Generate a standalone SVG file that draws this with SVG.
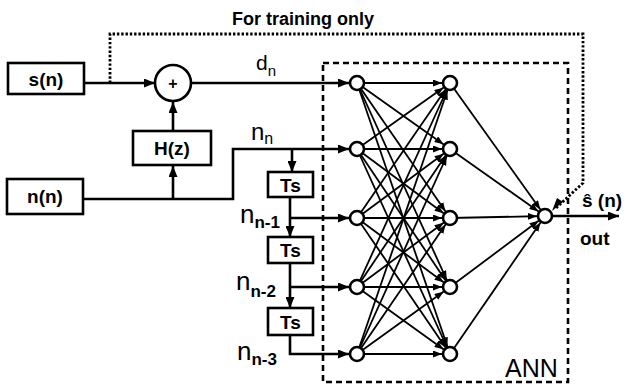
<svg xmlns="http://www.w3.org/2000/svg" width="630" height="385" viewBox="0 0 630 385">
<style>
.box{fill:#fff;stroke:#000;stroke-width:2.6}
.ln{fill:none;stroke:#000;stroke-width:2.6}
.w{fill:none;stroke:#000;stroke-width:1.8}
.node{fill:#fff;stroke:#000;stroke-width:2.6}
.t{font-family:"Liberation Sans",Arial,sans-serif;fill:#000}
.b{font-weight:bold}
.dot{fill:none;stroke:#000;stroke-width:2.8;stroke-dasharray:2.4 1.9}
.dash{fill:none;stroke:#000;stroke-width:2.6;stroke-dasharray:6 4}
</style>
<defs>
<marker id="arr" markerUnits="userSpaceOnUse" markerWidth="12" markerHeight="9" refX="11" refY="4.5" orient="auto">
<path d="M0,0 L11,4.5 L0,9 z" fill="#000"/>
</marker>
<marker id="nn" markerUnits="userSpaceOnUse" markerWidth="20" markerHeight="7" refX="17" refY="3.5" orient="auto">
<path d="M0,0 L9,3.5 L0,7 z" fill="#000"/>
</marker>
</defs>
<rect width="630" height="385" fill="#fff"/>

<g id="connectors">
<path class="dot" d="M110,83 V34 H583 V183 L556,208"/>
<path d="M563,202 L552,211 L557,198 z" fill="#000"/>
<path class="ln" d="M84,83 H155" marker-end="url(#arr)"/>
<path class="ln" d="M191,83 H349" marker-end="url(#arr)"/>
<path class="ln" d="M173,131 V102" marker-end="url(#arr)"/>
<path class="ln" d="M173,199 V166" marker-end="url(#arr)"/>
<path class="ln" d="M83,199 H233 V149 H349" marker-end="url(#arr)"/>
<path class="ln" d="M292,149 V172" marker-end="url(#arr)"/>
<path class="ln" d="M290,197 V237" marker-end="url(#arr)"/>
<path class="ln" d="M290,218 H349" marker-end="url(#arr)"/>
<path class="ln" d="M290,263 V308" marker-end="url(#arr)"/>
<path class="ln" d="M290,287 H349" marker-end="url(#arr)"/>
<path class="ln" d="M290,335 V354 H349" marker-end="url(#arr)"/>
<path class="ln" d="M552,216 H619" marker-end="url(#arr)"/>
<g class="w" marker-end="url(#nn)">
<line x1="357" y1="83" x2="450" y2="83"/>
<line x1="357" y1="83" x2="450" y2="149"/>
<line x1="357" y1="83" x2="450" y2="218"/>
<line x1="357" y1="83" x2="450" y2="287"/>
<line x1="357" y1="83" x2="450" y2="354"/>
<line x1="357" y1="149" x2="450" y2="83"/>
<line x1="357" y1="149" x2="450" y2="149"/>
<line x1="357" y1="149" x2="450" y2="218"/>
<line x1="357" y1="149" x2="450" y2="287"/>
<line x1="357" y1="149" x2="450" y2="354"/>
<line x1="357" y1="218" x2="450" y2="83"/>
<line x1="357" y1="218" x2="450" y2="149"/>
<line x1="357" y1="218" x2="450" y2="218"/>
<line x1="357" y1="218" x2="450" y2="287"/>
<line x1="357" y1="218" x2="450" y2="354"/>
<line x1="357" y1="287" x2="450" y2="83"/>
<line x1="357" y1="287" x2="450" y2="149"/>
<line x1="357" y1="287" x2="450" y2="218"/>
<line x1="357" y1="287" x2="450" y2="287"/>
<line x1="357" y1="287" x2="450" y2="354"/>
<line x1="357" y1="354" x2="450" y2="83"/>
<line x1="357" y1="354" x2="450" y2="149"/>
<line x1="357" y1="354" x2="450" y2="218"/>
<line x1="357" y1="354" x2="450" y2="287"/>
<line x1="357" y1="354" x2="450" y2="354"/>
<line x1="450" y1="83" x2="545" y2="216"/>
<line x1="450" y1="149" x2="545" y2="216"/>
<line x1="450" y1="218" x2="545" y2="216"/>
<line x1="450" y1="287" x2="545" y2="216"/>
<line x1="450" y1="354" x2="545" y2="216"/>
</g>
</g>

<g id="ann">
<rect class="dash" x="323" y="63" width="245" height="319"/>
<text class="t" x="505" y="377" font-size="25">ANN</text>
</g>

<g id="training-label"><text class="t b" x="303" y="25" font-size="18" text-anchor="middle">For training only</text></g>

<g id="s-n"><rect class="box" x="8" y="63" width="76" height="31"/><text class="t b" x="46" y="86" font-size="19" text-anchor="middle">s(n)</text></g>
<g id="n-n"><rect class="box" x="7" y="179" width="76" height="35"/><text class="t b" x="45" y="203" font-size="19" text-anchor="middle">n(n)</text></g>
<g id="sum"><circle class="node" cx="173" cy="83" r="18"/><text class="t b" x="173" y="89" font-size="16" text-anchor="middle">+</text></g>
<g id="hz"><rect class="box" x="133" y="131" width="78" height="34"/><text class="t b" x="172" y="155" font-size="19" text-anchor="middle">H(z)</text></g>
<g id="ts1"><rect class="box" x="268" y="172" width="45" height="25"/><text class="t b" x="290.5" y="192" font-size="19" text-anchor="middle">Ts</text></g>
<g id="ts2"><rect class="box" x="268" y="237" width="45" height="26"/><text class="t b" x="290.5" y="257" font-size="19" text-anchor="middle">Ts</text></g>
<g id="ts3"><rect class="box" x="268" y="308" width="45" height="27"/><text class="t b" x="290.5" y="329" font-size="19" text-anchor="middle">Ts</text></g>

<g id="labels">
<text class="t" x="256" y="70" font-size="21">d<tspan font-size="15" dy="6">n</tspan></text>
<text class="t" x="251" y="140" font-size="24">n<tspan font-size="16" dy="4">n</tspan></text>
<text class="t" x="240" y="223" font-size="26">n<tspan class="b" font-size="17" dy="5">n-1</tspan></text>
<text class="t" x="236" y="290" font-size="26">n<tspan class="b" font-size="17" dy="7">n-2</tspan></text>
<text class="t" x="237" y="360" font-size="26">n<tspan class="b" font-size="17" dy="5">n-3</tspan></text>
<text class="t b" x="582" y="207" font-size="19">ŝ (n)</text>
<text class="t b" x="580" y="245" font-size="19">out</text>
</g>

<g id="in1"><circle class="node" cx="357" cy="83" r="7"/></g>
<g id="in2"><circle class="node" cx="357" cy="149" r="7"/></g>
<g id="in3"><circle class="node" cx="357" cy="218" r="7"/></g>
<g id="in4"><circle class="node" cx="357" cy="287" r="7"/></g>
<g id="in5"><circle class="node" cx="357" cy="354" r="7"/></g>
<g id="h1"><circle class="node" cx="450" cy="83" r="7"/></g>
<g id="h2"><circle class="node" cx="450" cy="149" r="7"/></g>
<g id="h3"><circle class="node" cx="450" cy="218" r="7"/></g>
<g id="h4"><circle class="node" cx="450" cy="287" r="7"/></g>
<g id="h5"><circle class="node" cx="450" cy="354" r="7"/></g>
<g id="out"><circle class="node" cx="545" cy="216" r="7"/></g>
</svg>
